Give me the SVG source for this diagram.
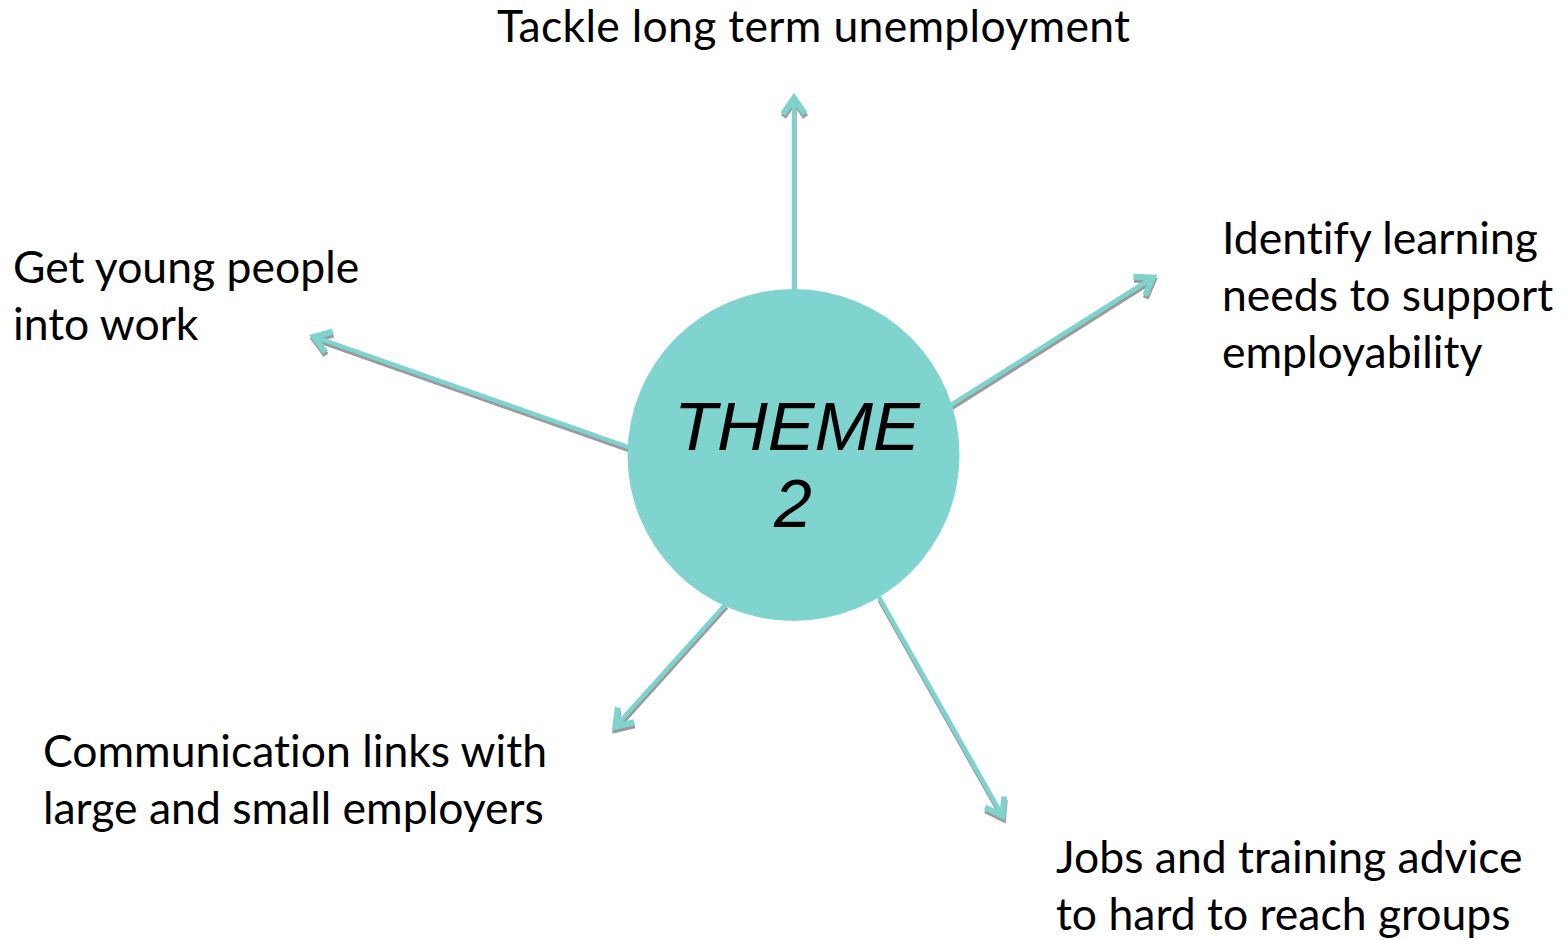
<svg xmlns="http://www.w3.org/2000/svg" width="1567" height="940" viewBox="0 0 1567 940">
<style>
.lbl{font-family:Lato,"Open Sans","Liberation Sans",sans-serif;font-size:44.5px;fill:#000;font-variant-ligatures:none;}
.theme{font-family:"Liberation Sans",Arial,sans-serif;font-style:italic;font-size:68px;fill:#000;text-anchor:middle;}
.ln{fill:none;stroke-width:4.5;}
</style>
<defs>
<marker id="ahT" markerUnits="userSpaceOnUse" markerWidth="40" markerHeight="40" refX="0" refY="0" viewBox="-20 -20 40 40" orient="auto" overflow="visible">
<path d="M -15 -11 L 1 0 L -15 11" fill="none" stroke="#7fd3cf" stroke-width="6" stroke-linejoin="miter"/>
</marker>
<marker id="ahG" markerUnits="userSpaceOnUse" markerWidth="40" markerHeight="40" refX="0" refY="0" viewBox="-20 -20 40 40" orient="auto" overflow="visible">
<path d="M -15 -11 L 1 0 L -15 11" fill="none" stroke="#9a9a9a" stroke-width="6" stroke-linejoin="miter"/>
</marker>
</defs>
<rect width="1567" height="940" fill="#fff"/>
<g id="connectors">
<g id="shadows" transform="translate(0.5,3)" stroke="#9a9a9a" class="ln">
<line x1="794" y1="289" x2="794" y2="99" marker-end="url(#ahG)"/>
<line x1="951" y1="405" x2="1152" y2="278" marker-end="url(#ahG)"/>
<line x1="628" y1="447" x2="315" y2="337" marker-end="url(#ahG)"/>
<line x1="726" y1="604" x2="616" y2="726" marker-end="url(#ahG)"/>
<line x1="879" y1="597" x2="1002" y2="815" marker-end="url(#ahG)"/>
</g>
<g id="arrows" stroke="#7fd3cf" class="ln">
<line x1="794" y1="289" x2="794" y2="99" marker-end="url(#ahT)"/>
<line x1="951" y1="405" x2="1152" y2="278" marker-end="url(#ahT)"/>
<line x1="628" y1="447" x2="315" y2="337" marker-end="url(#ahT)"/>
<line x1="726" y1="604" x2="616" y2="726" marker-end="url(#ahT)"/>
<line x1="879" y1="597" x2="1002" y2="815" marker-end="url(#ahT)"/>
</g>
</g>
<g id="theme">
<circle cx="793.5" cy="455" r="166" fill="#80d4cf"/>
<text class="theme" x="797" y="450" textLength="246" lengthAdjust="spacingAndGlyphs">THEME</text>
<text class="theme" x="793" y="527">2</text>
</g>
<g id="n-top"><text class="lbl" x="497" y="42" textLength="633" lengthAdjust="spacing">Tackle long term unemployment</text></g>
<g id="n-right">
<text class="lbl" x="1222" y="254">Identify learning</text>
<text class="lbl" x="1222" y="311">needs to support</text>
<text class="lbl" x="1222" y="368">employability</text>
</g>
<g id="n-left">
<text class="lbl" x="13" y="283">Get young people</text>
<text class="lbl" x="13" y="340">into work</text>
</g>
<g id="n-bottomleft">
<text class="lbl" x="43" y="767">Communication links with</text>
<text class="lbl" x="43" y="824">large and small employers</text>
</g>
<g id="n-bottomright">
<text class="lbl" x="1056" y="873">Jobs and training advice</text>
<text class="lbl" x="1056" y="930">to hard to reach groups</text>
</g>
</svg>
